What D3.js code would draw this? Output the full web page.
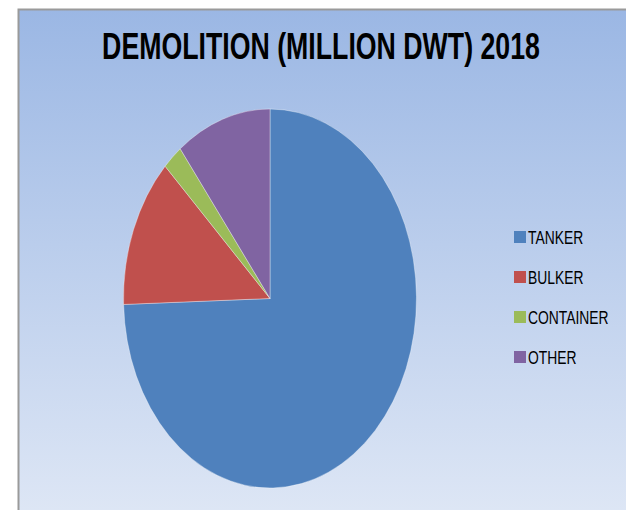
<!DOCTYPE html>
<html><head><meta charset="utf-8">
<script src="https://cdn.jsdelivr.net/npm/d3@7"></script>
<style>html,body{margin:0;padding:0;background:#fff;overflow:hidden}</style>
</head><body>
<script>
const categories = ["TANKER", "BULKER", "CONTAINER", "OTHER"];
const values = [74.5, 12.8, 2.2, 10.5];
const colors = ["#4F81BD", "#C0504D", "#9BBB59", "#8064A2"];
const title = "DEMOLITION (MILLION DWT) 2018";

const W = 626, H = 510;
const svg = d3.select("body").append("svg").attr("width", W).attr("height", H);
const defs = svg.append("defs");
const grad = defs.append("linearGradient").attr("id", "bg").attr("x1", 0).attr("y1", 0).attr("x2", 0).attr("y2", 1);
grad.append("stop").attr("offset", "0%").attr("stop-color", "#9bb7e4");
grad.append("stop").attr("offset", "100%").attr("stop-color", "#dde6f5");

svg.append("rect").attr("x", 18).attr("y", 9).attr("width", W - 18).attr("height", H - 9).attr("fill", "url(#bg)");
svg.append("path").attr("d", `M18.5,${H} L18.5,9.5 L${W},9.5`).attr("fill", "none").attr("stroke", "#9a9a9a").attr("stroke-width", 2);

const font = "'Liberation Sans Narrow','Arial Narrow','Liberation Sans',sans-serif";
const tg = svg.append("g");
const tt = tg.append("text").attr("x", 0).attr("y", 0).attr("text-anchor", "middle")
  .attr("font-family", font).attr("font-weight", "bold").attr("font-size", 36).attr("fill", "#000").text(title);
const tw = tt.node().getComputedTextLength();
tg.attr("transform", `translate(321,58.5) scale(${438 / tw},1)`);

const cx = 270, cy = 298.5, ry = 189.5, rx = 146.5;
const pie = d3.pie().sort(null).value(d => d);
const arc = d3.arc().innerRadius(0).outerRadius(ry);
const g = svg.append("g").attr("transform", `translate(${cx},${cy}) scale(${rx / ry},1)`);
g.selectAll("path").data(pie(values)).join("path")
  .attr("d", arc).attr("fill", (d, i) => colors[i])
  .attr("stroke", "rgba(255,255,255,0.45)").attr("stroke-width", 0.8)
  .attr("vector-effect", "non-scaling-stroke");

const leg = svg.append("g");
const ly = d3.scalePoint().domain(categories).range([237, 357]);
categories.forEach((c, i) => {
  leg.append("rect").attr("x", 514).attr("y", ly(c) - 6).attr("width", 12).attr("height", 12).attr("fill", colors[i]);
  const lg = leg.append("g").attr("transform", `translate(528,${ly(c) + 6.5}) scale(0.77,1)`);
  lg.append("text").attr("x", 0).attr("y", 0)
    .attr("font-family", font).attr("font-size", 18).attr("fill", "#000").text(c);
});
</script>
</body></html>
